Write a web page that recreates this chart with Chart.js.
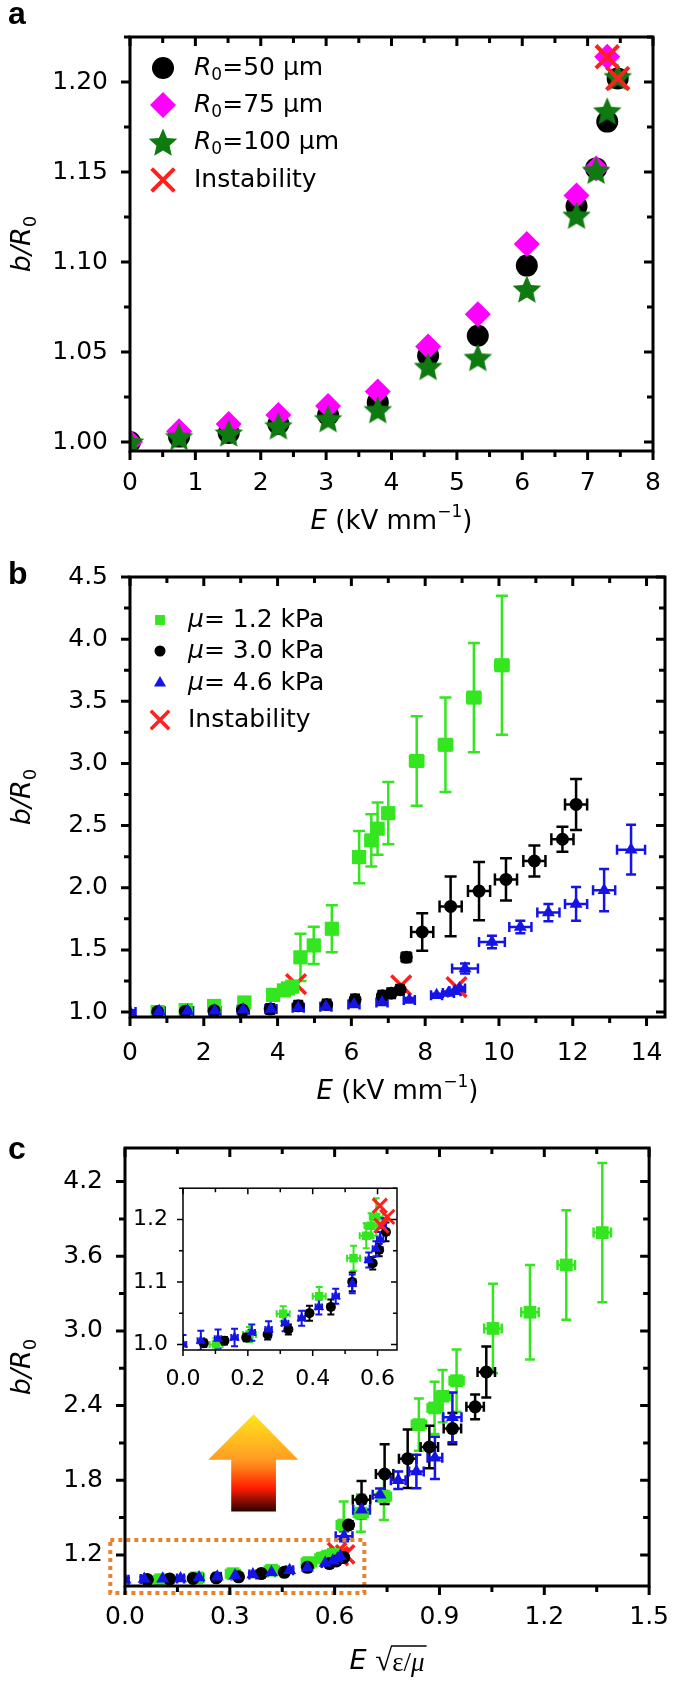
<!DOCTYPE html>
<html>
<head>
<meta charset="utf-8">
<script src="https://cdn.jsdelivr.net/npm/chart.js@4.4.1/dist/chart.umd.min.js"></script>
<style>
  html, body { margin: 0; padding: 0; background: #fff; }
  #wrap { position: relative; width: 685px; height: 1684px; }
  canvas { position: absolute; }
</style>
</head>
<body>
<div id="wrap">
  <canvas id="chartA" width="685" height="540" style="left:0;top:0"></canvas>
  <canvas id="chartB" width="685" height="580" style="left:0;top:540px"></canvas>
  <canvas id="chartC" width="685" height="584" style="left:0;top:1100px"></canvas>
  <canvas id="chartInset" width="320" height="250" style="left:100px;top:1160px"></canvas>
</div>
<script>
var FONT = '"DejaVu Sans", "Liberation Sans", Arial, sans-serif';
Chart.defaults.font.family = FONT;
Chart.defaults.color = '#000';

// ---------- panel a : b/R0 against E for three radii ----------
var fieldA = [0, 0.75, 1.51, 2.27, 3.03, 3.79, 4.56, 5.32, 6.07, 6.83, 7.13, 7.30, 7.46];
var r50 = [1.000, 1.003, 1.005, 1.010, 1.015, 1.022, 1.048, 1.059, 1.098, 1.131, 1.152, 1.178, 1.202];
var r75 = [1.000, 1.006, 1.010, 1.015, 1.020, 1.028, 1.053, 1.071, 1.110, 1.137, 1.152, 1.214, null];
var r100 = [1.000, 1.003, 1.005, 1.009, 1.013, 1.018, 1.042, 1.047, 1.085, 1.126, 1.151, 1.184, 1.203];
var instabAx = [7.30, 7.46];
var instabAy = [1.214, 1.202];
var xTicksA = [0, 1, 2, 3, 4, 5, 6, 7, 8];
var yTicksA = [1.00, 1.05, 1.10, 1.15, 1.20];

// ---------- panel b : b/R0 against E for three shear moduli ----------
var greenE = [0.75, 1.51, 2.28, 3.10, 3.88, 4.17, 4.28, 4.40, 4.62, 4.98, 5.47, 6.21, 6.54, 6.71, 7.00, 7.77, 8.55, 9.32, 10.08];
var greenB = [1.000, 1.016, 1.049, 1.077, 1.138, 1.174, 1.190, 1.204, 1.44, 1.536, 1.67, 2.247, 2.381, 2.475, 2.60, 3.02, 3.15, 3.53, 3.79];
var greenErr = [0.01, 0.012, 0.012, 0.015, 0.02, 0.02, 0.02, 0.03, 0.19, 0.15, 0.19, 0.21, 0.21, 0.21, 0.25, 0.36, 0.38, 0.44, 0.56];
var greenEErr = [0.15, 0.15, 0.15, 0.15, 0.15, 0.15, 0.15, 0.15, 0.15, 0.15, 0.15, 0.15, 0.15, 0.15, 0.15, 0.18, 0.18, 0.18, 0.18];

var blackE = [0.75, 1.50, 2.28, 3.05, 3.80, 4.56, 5.33, 6.10, 6.84, 7.08, 7.32, 7.49, 7.92, 8.69, 9.46, 10.19, 10.96, 11.72, 12.09];
var blackB = [1.002, 1.006, 1.011, 1.016, 1.024, 1.050, 1.060, 1.100, 1.130, 1.151, 1.180, 1.44, 1.644, 1.85, 1.973, 2.067, 2.215, 2.39, 2.67];
var blackErr = [0.006, 0.006, 0.006, 0.008, 0.008, 0.012, 0.012, 0.015, 0.01, 0.01, 0.015, 0.03, 0.15, 0.24, 0.235, 0.17, 0.125, 0.10, 0.205];
var blackEErr = [0.1, 0.1, 0.1, 0.1, 0.1, 0.1, 0.1, 0.1, 0.1, 0.1, 0.1, 0.1, 0.3, 0.3, 0.3, 0.3, 0.3, 0.3, 0.3];

var blueE = [0, 0.79, 1.56, 2.30, 3.07, 3.82, 4.56, 5.31, 6.07, 6.83, 7.57, 8.31, 8.63, 8.81, 8.93, 9.08, 9.81, 10.58, 11.34, 12.09, 12.85, 13.58];
var blueB = [1.000, 1.006, 1.009, 1.011, 1.019, 1.024, 1.034, 1.042, 1.060, 1.077, 1.097, 1.135, 1.153, 1.168, 1.190, 1.35, 1.563, 1.684, 1.80, 1.87, 1.98, 2.306];
var blueErr = [0.015, 0.016, 0.015, 0.014, 0.013, 0.013, 0.013, 0.012, 0.012, 0.012, 0.015, 0.012, 0.012, 0.012, 0.012, 0.04, 0.05, 0.05, 0.07, 0.135, 0.17, 0.20];
var blueEErr = [0.15, 0.15, 0.15, 0.15, 0.15, 0.15, 0.15, 0.15, 0.15, 0.15, 0.15, 0.15, 0.15, 0.15, 0.15, 0.35, 0.35, 0.30, 0.30, 0.30, 0.30, 0.38];

var instabBx = [4.50, 7.35, 8.85];
var instabBy = [1.225, 1.215, 1.200];
var xTicksB = [0, 2, 4, 6, 8, 10, 12, 14];
var yTicksB = [1.0, 1.5, 2.0, 2.5, 3.0, 3.5, 4.0, 4.5];

// ---------- panel c : b/R0 against normalised field E*sqrt(eps/mu) ----------
var greenS = [0.102, 0.205, 0.309, 0.420, 0.526, 0.565, 0.580, 0.596, 0.626, 0.675, 0.741, 0.841, 0.886, 0.909, 0.949, 1.053, 1.159, 1.263, 1.366];
var greenSErr = [0.02, 0.02, 0.02, 0.02, 0.02, 0.02, 0.02, 0.02, 0.02, 0.02, 0.02, 0.02, 0.02, 0.02, 0.02, 0.025, 0.025, 0.025, 0.025];
var blackS = [0.064, 0.128, 0.195, 0.261, 0.325, 0.390, 0.456, 0.522, 0.585, 0.605, 0.626, 0.640, 0.677, 0.743, 0.809, 0.871, 0.937, 1.002, 1.034];
var blackSErr = [0.008, 0.008, 0.008, 0.008, 0.008, 0.008, 0.008, 0.008, 0.008, 0.008, 0.008, 0.008, 0.025, 0.025, 0.025, 0.025, 0.025, 0.025, 0.025];
var blueS = [0, 0.055, 0.108, 0.159, 0.212, 0.264, 0.315, 0.366, 0.419, 0.471, 0.522, 0.573, 0.595, 0.608, 0.616, 0.627, 0.677, 0.730, 0.782, 0.834, 0.887, 0.937];
var blueSErr = [0.01, 0.01, 0.01, 0.01, 0.01, 0.01, 0.01, 0.01, 0.01, 0.01, 0.01, 0.01, 0.01, 0.01, 0.01, 0.024, 0.024, 0.021, 0.021, 0.021, 0.021, 0.026];
var instabCx = [0.607, 0.630, 0.612];
var instabCy = [1.222, 1.204, 1.190];
var xTicksC = [0, 0.3, 0.6, 0.9, 1.2, 1.5];
var yTicksC = [1.2, 1.8, 2.4, 3.0, 3.6, 4.2];
var xTicksIn = [0, 0.2, 0.4, 0.6];
var yTicksIn = [1.0, 1.1, 1.2];

// zoom box and arrow, in panel c data units
var zoomBoxX = [-0.042, 0.685];
var zoomBoxY = [0.894, 1.32];
var arrowX = [0.238, 0.304, 0.368, 0.432, 0.496];  // head left, shaft left, tip, shaft right, head right
var arrowY = [2.33, 1.964, 1.548];                 // tip, head base, shaft bottom

// ---------- helpers ----------
var GREEN = '#33e61f', BLUE = '#1414e6', RED = '#ff1f1f', MAGENTA = '#ff00ff', DKGREEN = '#0f7a0f';

function starCanvas(r, color) {
  var c = document.createElement('canvas');
  c.width = c.height = Math.ceil(2 * r + 2);
  var g = c.getContext('2d'), m = c.width / 2;
  g.fillStyle = color;
  g.beginPath();
  for (var k = 0; k < 10; k++) {
    var rr = k % 2 ? r * 0.46 : r, an = -Math.PI / 2 + k * Math.PI / 5;
    g.lineTo(m + rr * Math.cos(an), m + 1.5 + rr * Math.sin(an));
  }
  g.closePath();
  g.fill();
  return c;
}
var STAR = starCanvas(15, DKGREEN);

function series(xs, ys, style, r, color, extra) {
  var ds = {
    data: xs.map(function (x, i) { return {x: x, y: ys[i]}; }),
    pointStyle: style, pointRadius: r,
    pointBackgroundColor: color, pointBorderColor: color, pointBorderWidth: 0,
    clip: 0
  };
  for (var k in extra) ds[k] = extra[k];
  return ds;
}

function axis(min, max, tickVals, dec, size, pad, fitKey, fitVal) {
  return {
    type: 'linear', min: min, max: max,
    grid: {display: false, drawTicks: false},
    border: {display: false},
    afterBuildTicks: function (s) { s.ticks = tickVals.map(function (v) { return {value: v}; }); },
    ticks: {color: '#000', font: {size: size}, padding: pad, maxRotation: 0, autoSkip: false,
      callback: function (v) { return Number(v).toFixed(dec); }},
    afterFit: function (s) { s[fitKey] = fitVal; }
  };
}

function rich(ctx, parts, x, y, size, align) {
  var segs = [], w = 0;
  parts.forEach(function (p) {
    var small = p[1] === 'sub' || p[1] === 'sup';
    var fs = small ? Math.round(size * 0.66) : size;
    var font = (p[1] === 'i' ? 'italic ' : '') + fs + 'px ' + FONT;
    ctx.font = font;
    var pw = ctx.measureText(p[0]).width;
    segs.push({t: p[0], font: font, w: pw, dy: p[1] === 'sub' ? size * 0.3 : (p[1] === 'sup' ? -size * 0.36 : 0)});
    w += pw;
  });
  var cx = align === 'center' ? x - w / 2 : x;
  ctx.textAlign = 'left';
  ctx.textBaseline = 'middle';
  ctx.fillStyle = '#000';
  segs.forEach(function (s) { ctx.font = s.font; ctx.fillText(s.t, cx, y + s.dy); cx += s.w; });
}

function yTitle(ctx, x, y) {
  ctx.save();
  ctx.translate(x, y);
  ctx.rotate(-Math.PI / 2);
  rich(ctx, [['b', 'i'], ['/', 'i'], ['R', 'i'], ['0', 'sub']], 0, 0, 27, 'center');
  ctx.restore();
}

function panelLetter(ctx, t, y) {
  ctx.save();
  ctx.font = 'bold 32px "Liberation Sans", Arial, sans-serif';
  ctx.textAlign = 'left';
  ctx.textBaseline = 'middle';
  ctx.fillStyle = '#000';
  ctx.fillText(t, 8, y);
  ctx.restore();
}

function legend(ctx, items, mx, tx, rows, size) {
  items.forEach(function (it, i) {
    ctx.save();
    ctx.fillStyle = it.color;
    ctx.strokeStyle = it.color;
    ctx.lineWidth = it.lw || 0;
    Chart.helpers.drawPoint(ctx, {pointStyle: it.style, radius: it.r, rotation: 0, borderWidth: it.lw || 0}, mx, rows[i]);
    ctx.restore();
    rich(ctx, it.label, tx, rows[i], size, 'left');
  });
}

var errorBars = {
  id: 'errorBars',
  beforeDatasetsDraw: function (chart) {
    var ctx = chart.ctx, a = chart.chartArea, xs = chart.scales.x, ys = chart.scales.y;
    ctx.save();
    ctx.beginPath();
    ctx.rect(a.left, a.top, a.right - a.left, a.bottom - a.top);
    ctx.clip();
    chart.data.datasets.forEach(function (ds) {
      if (!ds.errY && !ds.errX) return;
      var cap = ds.capSize;
      ctx.strokeStyle = ds.pointBackgroundColor;
      ctx.lineWidth = ds.errWidth;
      ds.data.forEach(function (p, i) {
        if (p.y == null) return;
        var px = xs.getPixelForValue(p.x), py = ys.getPixelForValue(p.y);
        ctx.beginPath();
        if (ds.errY && ds.errY[i]) {
          var t = ys.getPixelForValue(p.y + ds.errY[i]), b = ys.getPixelForValue(p.y - ds.errY[i]);
          ctx.moveTo(px, t); ctx.lineTo(px, b);
          ctx.moveTo(px - cap, t); ctx.lineTo(px + cap, t);
          ctx.moveTo(px - cap, b); ctx.lineTo(px + cap, b);
        }
        if (ds.errX && ds.errX[i]) {
          var l = xs.getPixelForValue(p.x - ds.errX[i]), r = xs.getPixelForValue(p.x + ds.errX[i]);
          ctx.moveTo(l, py); ctx.lineTo(r, py);
          ctx.moveTo(l, py - cap); ctx.lineTo(l, py + cap);
          ctx.moveTo(r, py - cap); ctx.lineTo(r, py + cap);
        }
        ctx.stroke();
      });
    });
    ctx.restore();
  }
};

var framePlugin = {
  id: 'frame',
  afterDatasetsDraw: function (chart, args, o) {
    var ctx = chart.ctx, a = chart.chartArea;
    ctx.save();
    ctx.strokeStyle = '#000';
    ctx.lineWidth = o.lw;
    ctx.strokeRect(a.left, a.top, a.right - a.left, a.bottom - a.top);
    ['x', 'y'].forEach(function (id) {
      var s = chart.scales[id];
      var vals = s.ticks.map(function (t) { return t.value; });
      var step = vals[1] - vals[0];
      var marks = [[vals[0] - step / 2, o.minor]];
      vals.forEach(function (v) { marks.push([v, o.major]); marks.push([v + step / 2, o.minor]); });
      marks.forEach(function (m) {
        if (m[0] < s.min - 1e-9 || m[0] > s.max + 1e-9) return;
        var p = s.getPixelForValue(m[0]);
        ctx.beginPath();
        if (id === 'x') {
          ctx.moveTo(p, a.bottom); ctx.lineTo(p, a.bottom + m[1]);
          ctx.moveTo(p, a.top); ctx.lineTo(p, a.top + m[1]);
        } else {
          ctx.moveTo(a.left, p); ctx.lineTo(a.left - m[1], p);
          ctx.moveTo(a.right, p); ctx.lineTo(a.right - m[1], p);
        }
        ctx.stroke();
      });
    });
    ctx.restore();
  }
};

function baseOptions(pad, xAxis, yAxis, frame) {
  return {
    responsive: false, animation: false, events: [],
    layout: {padding: pad},
    scales: {x: xAxis, y: yAxis},
    plugins: {legend: {display: false}, tooltip: {enabled: false}, frame: frame}
  };
}

// ---------- chart a ----------
new Chart(document.getElementById('chartA'), {
  type: 'scatter',
  data: {
    datasets: [
      series(fieldA, r50, 'circle', 11, '#000', {order: 4}),
      series(fieldA, r75, 'rectRot', 13, MAGENTA, {order: 3}),
      series(fieldA, r100, STAR, 15, DKGREEN, {order: 2}),
      series(instabAx, instabAy, 'crossRot', 16, RED, {order: 1, pointBorderWidth: 4})
    ]
  },
  options: baseOptions({left: 0, top: 24, right: 32, bottom: 0},
    axis(0, 8, xTicksA, 0, 25, 17, 'height', 89),
    axis(0.995, 1.225, yTicksA, 2, 25, 22, 'width', 130),
    {lw: 3, major: 9, minor: 6}),
  plugins: [framePlugin, {
    id: 'textA',
    afterDraw: function (chart) {
      var ctx = chart.ctx, a = chart.chartArea;
      panelLetter(ctx, 'a', 15);
      yTitle(ctx, 23, (a.top + a.bottom) / 2);
      rich(ctx, [['E', 'i'], [' (kV mm'], ['\u22121', 'sup'], [')']], (a.left + a.right) / 2, 522, 26, 'center');
      legend(ctx, [
        {style: 'circle', r: 11, color: '#000', label: [['R', 'i'], ['0', 'sub'], ['=50 \u03bcm']]},
        {style: 'rectRot', r: 13, color: MAGENTA, label: [['R', 'i'], ['0', 'sub'], ['=75 \u03bcm']]},
        {style: STAR, r: 15, color: DKGREEN, label: [['R', 'i'], ['0', 'sub'], ['=100 \u03bcm']]},
        {style: 'crossRot', r: 16, color: RED, lw: 4, label: [['Instability']]}
      ], 163, 194, [68, 105, 142, 180], 25);
    }
  }]
});

// ---------- chart b ----------
new Chart(document.getElementById('chartB'), {
  type: 'scatter',
  data: {
    datasets: [
      series(instabBx, instabBy, 'crossRot', 14, RED, {order: 4, pointBorderWidth: 3.5}),
      series(greenE, greenB, 'rect', 10, GREEN, {order: 3, errY: greenErr, errX: greenEErr, capSize: 6, errWidth: 2.5}),
      series(blackE, blackB, 'circle', 6.5, '#000', {order: 2, errY: blackErr, errX: blackEErr, capSize: 6, errWidth: 2.5}),
      series(blueE, blueB, 'triangle', 7.5, BLUE, {order: 1, errY: blueErr, errX: blueEErr, capSize: 5, errWidth: 2.5})
    ]
  },
  options: baseOptions({left: 0, top: 37, right: 20, bottom: 0},
    axis(0, 14.5, xTicksB, 0, 25, 21, 'height', 103),
    axis(0.96, 4.5, yTicksB, 1, 25, 22, 'width', 130),
    {lw: 3, major: 9, minor: 6}),
  plugins: [errorBars, framePlugin, {
    id: 'textB',
    afterDraw: function (chart) {
      var ctx = chart.ctx, a = chart.chartArea;
      panelLetter(ctx, 'b', 35);
      yTitle(ctx, 23, (a.top + a.bottom) / 2);
      rich(ctx, [['E', 'i'], [' (kV mm'], ['\u22121', 'sup'], [')']], (a.left + a.right) / 2, 552, 26, 'center');
      legend(ctx, [
        {style: 'rect', r: 7, color: GREEN, label: [['\u03bc', 'i'], ['= 1.2 kPa']]},
        {style: 'circle', r: 5.5, color: '#000', label: [['\u03bc', 'i'], ['= 3.0 kPa']]},
        {style: 'triangle', r: 7, color: BLUE, label: [['\u03bc', 'i'], ['= 4.6 kPa']]},
        {style: 'crossRot', r: 13, color: RED, lw: 3.5, label: [['Instability']]}
      ], 160, 188, [80, 111, 143, 180], 25);
    }
  }]
});

// ---------- chart c ----------
new Chart(document.getElementById('chartC'), {
  type: 'scatter',
  data: {
    datasets: [
      series(instabCx, instabCy, 'crossRot', 13, RED, {order: 4, pointBorderWidth: 3.5}),
      series(greenS, greenB, 'rect', 9, GREEN, {order: 3, errY: greenErr, errX: greenSErr, capSize: 5, errWidth: 2.5}),
      series(blackS, blackB, 'circle', 6.5, '#000', {order: 2, errY: blackErr, errX: blackSErr, capSize: 5, errWidth: 2.5}),
      series(blueS, blueB, 'triangle', 7.5, BLUE, {order: 1, errY: blueErr, errX: blueSErr, capSize: 5, errWidth: 2.5})
    ]
  },
  options: baseOptions({left: 0, top: 48, right: 21, bottom: 0},
    axis(0, 1.5, xTicksC, 1, 25, 16, 'height', 98),
    axis(0.95, 4.47, yTicksC, 1, 25, 22, 'width', 125),
    {lw: 3, major: 9, minor: 6}),
  plugins: [errorBars, {
    id: 'arrowC',
    beforeDatasetsDraw: function (chart) {
      var ctx = chart.ctx, xs = chart.scales.x, ys = chart.scales.y;
      var X = arrowX.map(function (v) { return xs.getPixelForValue(v); });
      var Y = arrowY.map(function (v) { return ys.getPixelForValue(v); });
      var g = ctx.createLinearGradient(0, Y[0], 0, Y[2]);
      g.addColorStop(0, '#ffe61a');
      g.addColorStop(0.45, '#ff9f24');
      g.addColorStop(0.55, '#ff7d18');
      g.addColorStop(0.76, '#ff1c00');
      g.addColorStop(1, '#2a0000');
      ctx.save();
      ctx.fillStyle = g;
      ctx.beginPath();
      ctx.moveTo(X[2], Y[0]);
      ctx.lineTo(X[4], Y[1]);
      ctx.lineTo(X[3], Y[1]);
      ctx.lineTo(X[3], Y[2]);
      ctx.lineTo(X[1], Y[2]);
      ctx.lineTo(X[1], Y[1]);
      ctx.lineTo(X[0], Y[1]);
      ctx.closePath();
      ctx.fill();
      ctx.restore();
    },
    afterDatasetsDraw: function (chart) {
      var ctx = chart.ctx, xs = chart.scales.x, ys = chart.scales.y;
      var l = xs.getPixelForValue(zoomBoxX[0]), r = xs.getPixelForValue(zoomBoxX[1]);
      var t = ys.getPixelForValue(zoomBoxY[1]), b = ys.getPixelForValue(zoomBoxY[0]);
      ctx.save();
      ctx.strokeStyle = '#e8832c';
      ctx.lineWidth = 4;
      ctx.setLineDash([4, 4]);
      ctx.strokeRect(l, t, r - l, b - t);
      ctx.restore();
    }
  }, framePlugin, {
    id: 'textC',
    afterDraw: function (chart) {
      var ctx = chart.ctx, a = chart.chartArea;
      panelLetter(ctx, 'c', 50);
      yTitle(ctx, 23, (a.top + a.bottom) / 2);
      // E sqrt(eps/mu)
      var cx = (a.left + a.right) / 2, cy = 562;
      var fE = 'italic 27px ' + FONT, fR = '31px "Liberation Serif", "DejaVu Serif", serif';
      var fT = '27px "Liberation Serif", "DejaVu Serif", serif', fM = 'italic 27px "Liberation Serif", "DejaVu Serif", serif';
      ctx.save();
      ctx.textAlign = 'left';
      ctx.textBaseline = 'middle';
      ctx.fillStyle = '#000';
      ctx.font = fE; var wE = ctx.measureText('E ').width;
      ctx.font = fR; var wR = ctx.measureText('\u221a').width;
      ctx.font = fT; var wT = ctx.measureText('\u03b5/').width;
      ctx.font = fM; var wM = ctx.measureText('\u03bc').width;
      var x0 = cx - (wE + wR + wT + wM) / 2;
      ctx.font = fE; ctx.fillText('E', x0, cy);
      ctx.font = fR; ctx.fillText('\u221a', x0 + wE, cy);
      ctx.font = fT; ctx.fillText('\u03b5/', x0 + wE + wR, cy + 2);
      ctx.font = fM; ctx.fillText('\u03bc', x0 + wE + wR + wT, cy + 2);
      ctx.strokeStyle = '#000';
      ctx.lineWidth = 1.5;
      ctx.beginPath();
      ctx.moveTo(x0 + wE + wR - 1, cy - 16);
      ctx.lineTo(x0 + wE + wR + wT + wM + 2, cy - 16);
      ctx.stroke();
      ctx.restore();
    }
  }]
});

// ---------- inset of chart c ----------
new Chart(document.getElementById('chartInset'), {
  type: 'scatter',
  data: {
    datasets: [
      series(greenS, greenB, 'rect', 6, GREEN, {order: 4, errY: greenErr, errX: greenSErr, capSize: 3.5, errWidth: 2}),
      series(blackS, blackB, 'circle', 5, '#000', {order: 3, errY: blackErr, errX: blackSErr, capSize: 3.5, errWidth: 2}),
      series(blueS, blueB, 'triangle', 6, BLUE, {order: 2, errY: blueErr, errX: blueSErr, capSize: 3.5, errWidth: 2}),
      series(instabCx, instabCy, 'crossRot', 10, RED, {order: 1, pointBorderWidth: 3})
    ]
  },
  options: baseOptions({left: 0, top: 20, right: 23, bottom: 0},
    axis(0, 0.66, xTicksIn, 1, 22, 16, 'height', 60),
    axis(0.991, 1.25, yTicksIn, 1, 22, 15, 'width', 83),
    {lw: 1.5, major: 6, minor: 4}),
  plugins: [errorBars, framePlugin]
});
</script>
</body>
</html>
